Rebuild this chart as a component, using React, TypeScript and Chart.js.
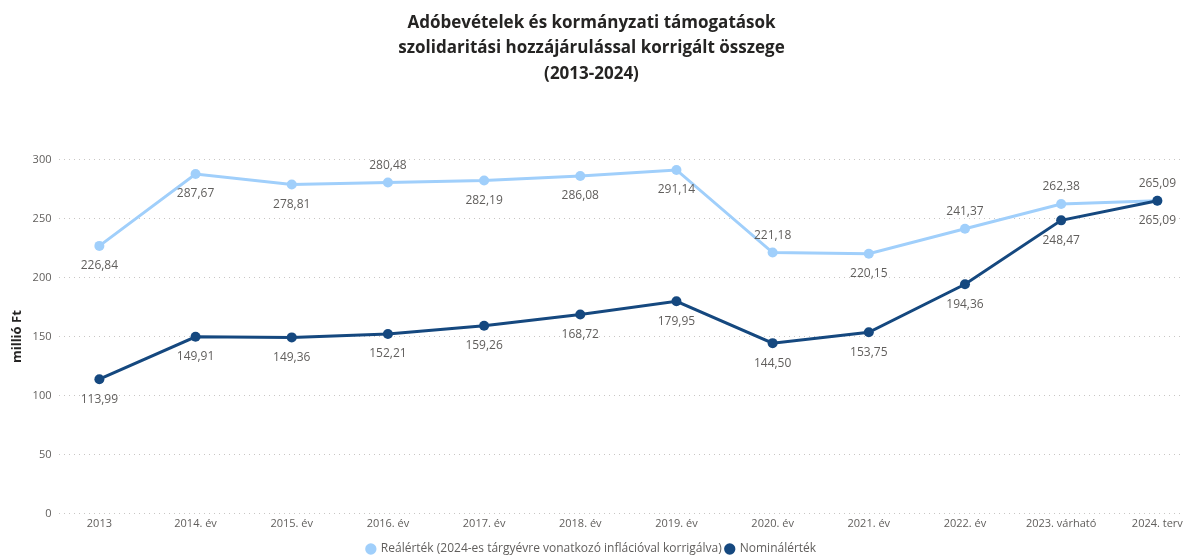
import React, { useEffect, useRef } from "react";
import { Chart, registerables } from "chart.js";

Chart.register(...registerables);

const categories = [
  "2013", "2014. év", "2015. év", "2016. év", "2017. év", "2018. év",
  "2019. év", "2020. év", "2021. év", "2022. év", "2023. várható", "2024. terv",
];
const realValues = [226.84, 287.67, 278.81, 280.48, 282.19, 286.08, 291.14, 221.18, 220.15, 241.37, 262.38, 265.09];
const nominalValues = [113.99, 149.91, 149.36, 152.21, 159.26, 168.72, 179.95, 144.5, 153.75, 194.36, 248.47, 265.09];
const yTicks = [0, 50, 100, 150, 200, 250, 300];
const titleLines = [
  "Adóbevételek és kormányzati támogatások",
  "szolidaritási hozzájárulással korrigált összege",
  "(2013-2024)",
];
const seriesNames = ["Reálérték (2024-es tárgyévre vonatkozó inflációval korrigálva)", "Nominálérték"];

const LIGHT = "#A0CFFB";
const DARK = "#15487F";
const TEXT = "#605E5C";
const FONT = "'Segoe UI', 'Open Sans', 'Noto Sans', sans-serif";

// label placement per dataset: true = above point
const labelAbove = [
  [false, false, false, true, false, false, false, true, false, true, true, true],
  [false, false, false, false, false, false, false, false, false, false, false, false],
];

const fmt = (v: number) => v.toFixed(2).replace(".", ",");

const dataLabelPlugin = {
  id: "dataLabels",
  afterDatasetsDraw(chart: any) {
    const ctx = chart.ctx;
    ctx.save();
    ctx.font = `12px ${FONT}`;
    ctx.fillStyle = TEXT;
    ctx.textAlign = "center";
    ctx.textBaseline = "middle";
    chart.data.datasets.forEach((ds: any, di: number) => {
      const meta = chart.getDatasetMeta(di);
      meta.data.forEach((pt: any, i: number) => {
        const v = ds.data[i].y;
        const above = labelAbove[di][i];
        ctx.fillText(fmt(v), pt.x, above ? pt.y - 17 : pt.y + 20);
      });
    });
    ctx.restore();
  },
};

// nudges the bottom legend down toward the canvas edge
const legendShiftPlugin = {
  id: "legendShift",
  afterLayout(chart: any) {
    const lg = chart.legend;
    if (lg) {
      lg.top += 6;
      lg.bottom += 6;
    }
  },
};

export default function App() {
  const ref = useRef<HTMLCanvasElement | null>(null);
  useEffect(() => {
    document.body.style.margin = "0";
    const toPts = (arr: number[]) => arr.map((y, i) => ({ x: i, y }));
    const chart = new Chart(ref.current!, {
      type: "line",
      data: {
        datasets: [
          {
            label: seriesNames[0],
            data: toPts(realValues),
            borderColor: LIGHT,
            backgroundColor: LIGHT,
            borderWidth: 3,
            pointRadius: 5,
            pointHoverRadius: 5,
            pointBorderWidth: 0,
            order: 1,
          },
          {
            label: seriesNames[1],
            data: toPts(nominalValues),
            borderColor: DARK,
            backgroundColor: DARK,
            borderWidth: 3,
            pointRadius: 5,
            pointHoverRadius: 5,
            pointBorderWidth: 0,
            order: 0,
          },
        ],
      },
      options: {
        animation: false,
        responsive: false,
        maintainAspectRatio: false,
        layout: { padding: { left: 2, right: 5, top: 0, bottom: -3 } },
        plugins: {
          title: {
            display: true,
            text: titleLines,
            color: "#252423",
            font: { family: FONT, size: 17, weight: "bold", lineHeight: 1.5 },
            padding: { top: 10, bottom: 73 },
          },
          legend: {
            position: "bottom",
            labels: {
              usePointStyle: true,
              pointStyle: "circle",
              boxWidth: 8,
              boxHeight: 8,
              color: TEXT,
              font: { family: FONT, size: 12 },
              padding: 4,
              sort: (a: any, b: any) => a.datasetIndex - b.datasetIndex,
            },
          },
          tooltip: { enabled: false },
        },
        scales: {
          x: {
            type: "linear",
            min: -0.415,
            max: 11.246,
            grid: { display: false, drawTicks: false },
            border: { display: false },
            afterBuildTicks: (axis: any) => {
              axis.ticks = categories.map((_, i) => ({ value: i }));
            },
            ticks: {
              color: TEXT,
              font: { family: FONT, size: 11 },
              padding: 3,
              maxRotation: 0,
              autoSkip: false,
              callback: (v: any) => categories[v] ?? "",
            },
          },
          y: {
            min: 0,
            max: 300,
            afterBuildTicks: (axis: any) => {
              axis.ticks = yTicks.map((v) => ({ value: v }));
            },
            grid: { color: "#C8C6C4", lineWidth: 1, drawTicks: false },
            border: { display: false, dash: [1, 4] },
            ticks: {
              color: TEXT,
              font: { family: FONT, size: 11 },
              padding: 8,
            },
            title: {
              display: true,
              text: "millió Ft",
              color: "#252423",
              font: { family: FONT, size: 13, weight: "bold" },
              padding: { top: 7, bottom: 0 },
            },
          },
        },
      },
      plugins: [dataLabelPlugin, legendShiftPlugin],
    });
    return () => chart.destroy();
  }, []);
  return (
    <div style={{ width: 1186, height: 556 }}>
      <canvas ref={ref} width={1186} height={556} style={{ display: "block" }} />
    </div>
  );
}
